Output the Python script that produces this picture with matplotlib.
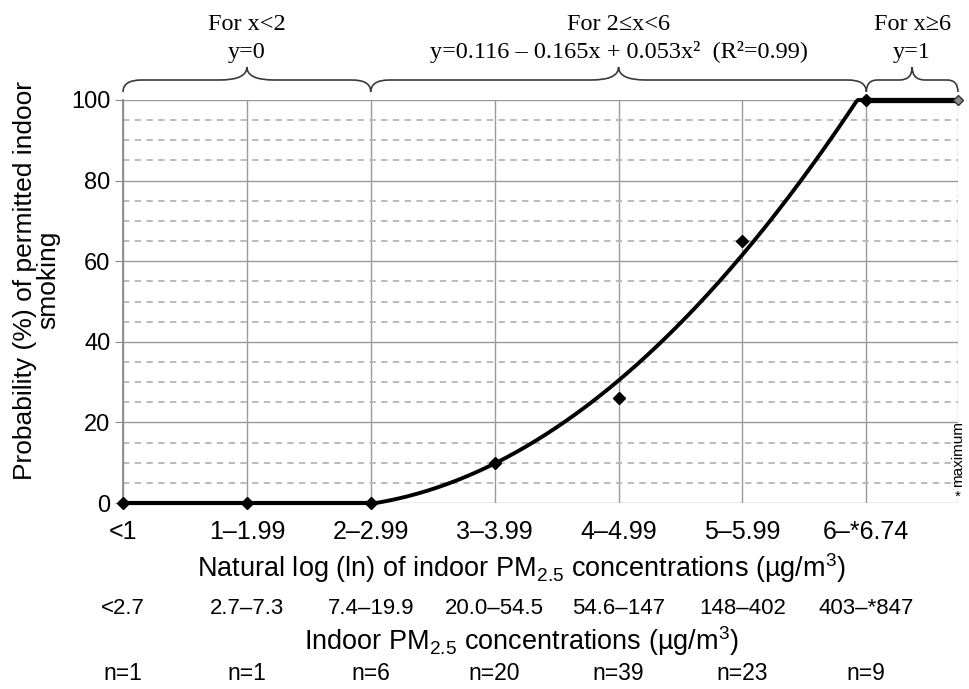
import numpy as np
import matplotlib
matplotlib.use('Agg')
import matplotlib.pyplot as plt
from matplotlib.path import Path
from matplotlib.patches import PathPatch
import matplotlib.transforms as mtransforms

# ---------------- data ----------------
ln_labels = ['<1', '1–1.99', '2–2.99', '3–3.99', '4–4.99', '5–5.99', '6–*6.74']
pm_labels = ['<2.7', '2.7–7.3', '7.4–19.9', '20.0–54.5', '54.6–147', '148–402', '403–*847']
n_labels = ['n=1', 'n=1', 'n=6', 'n=20', 'n=39', 'n=23', 'n=9']
x_obs = [0, 1, 2, 3, 4, 5, 6]
y_obs = [0, 0, 0, 10, 26, 65, 100]
x_max = 6.74
y_max = 100
fit_coef = [0.116, -0.165, 0.053]   # y = a + b x + c x^2  (2 <= x < 6)
fit_lo, fit_hi = 2, 6

plt.rcParams['font.family'] = ['Liberation Sans', 'DejaVu Sans']
plt.rcParams['mathtext.fontset'] = 'custom'
plt.rcParams['mathtext.rm'] = 'Liberation Sans'
plt.rcParams['mathtext.it'] = 'Liberation Sans:italic'
plt.rcParams['mathtext.bf'] = 'Liberation Sans:bold'

W, H = 969, 689
fig = plt.figure(figsize=(W / 100, H / 100), dpi=100)
L, R, T, B = 123, 958, 100, 503
ax = fig.add_axes([L / W, 1 - B / H, (R - L) / W, (B - T) / H])

def ay(p):
    return (B - p) / (B - T)

ax.set_xlim(0, x_max)
ax.set_ylim(0, 100)

# grid
ax.set_yticks(range(0, 101, 20))
ax.set_yticks(range(0, 101, 5), minor=True)
ax.set_xticks(x_obs)
ax.set_xticklabels(ln_labels, fontsize=18)
ax.yaxis.grid(True, which='major', color='#9a9a9a', lw=1.0)
ax.yaxis.grid(True, which='minor', color='#b5b5b5', lw=1.3, ls=(0, (3.5, 3)))
ax.xaxis.grid(True, which='major', color='#9a9a9a', lw=1.0)
ax.set_axisbelow(True)
for s in ['top', 'right', 'bottom']:
    ax.spines[s].set_visible(False)
ax.spines['left'].set_color('#8a8a8a')
ax.spines['left'].set_linewidth(1.3)
ax.tick_params(axis='y', which='major', length=6, color='#8a8a8a', labelsize=17, pad=3)
ax.tick_params(axis='y', which='minor', length=0)
ax.tick_params(axis='x', length=0, pad=12.5)
ax.axvline(x_max, color='#9a9a9a', lw=1.0, ls=(0, (3, 2)))

# fitted model
xc = np.linspace(fit_lo, fit_hi, 300)
yc = 100 * np.clip(fit_coef[0] + fit_coef[1] * xc + fit_coef[2] * xc ** 2, 0, 1)
ax.plot([x_obs[0], fit_lo], [0, 0], color='black', lw=3.0, clip_on=False, zorder=4,
        solid_capstyle='butt')
ax.plot(xc, yc, color='black', lw=2.8, clip_on=False, zorder=4)
ax.plot([fit_hi, x_max], [y_max, y_max], color='black', lw=3.8, clip_on=False, zorder=4,
        solid_capstyle='butt')

# observed points
ax.plot(x_obs, y_obs, 'D', color='black', ms=6.2, clip_on=False, zorder=5)
ax.plot([x_max], [y_max], 'D', mfc='#8c8c8c', mec='#333333', mew=1.0, ms=5.6,
        clip_on=False, zorder=6)

# labels
ax.set_ylabel('Probability (%) of permitted indoor\nsmoking', fontsize=19,
              linespacing=0.95)
ax.yaxis.set_label_coords((60 - L) / (R - L), ay(280))

tr = mtransforms.blended_transform_factory(ax.transData, ax.transAxes)
xlab_x = (521 - L) / (R - L) * x_max
ax.text(xlab_x, ay(568), 'Natural log (ln) of indoor PM$_{2.5}$ concentrations (µg/m$^3$)',
        transform=tr, ha='center', va='center', fontsize=19.5)
ax.text(xlab_x, ay(641), 'Indoor PM$_{2.5}$ concentrations (µg/m$^3$)',
        transform=tr, ha='center', va='center', fontsize=19.5)
for xi, pl, nl in zip(x_obs, pm_labels, n_labels):
    ax.text(xi, ay(609), pl, transform=tr, ha='center', va='center', fontsize=16)
    ax.text(xi, ay(674), nl, transform=tr, ha='center', va='center', fontsize=16.5)

ax.text(x_max, ay(487), 'maximum', transform=tr, rotation=90, ha='center', va='bottom',
        fontsize=11)
ax.text(x_max, ay(497), '*', transform=tr, ha='center', va='center', fontsize=11)

# braces
def brace(x0, x1, r_end, r_tip):
    ye, yf, yt = ay(92), ay(80), ay(67)
    xm = (x0 + x1) / 2
    verts = [(x0, ye), (x0, yf), (x0 + r_end, yf), (xm - r_tip, yf),
             (xm, yf), (xm, yt), (xm, yf), (xm + r_tip, yf),
             (x1 - r_end, yf), (x1, yf), (x1, ye)]
    codes = [Path.MOVETO, Path.CURVE3, Path.CURVE3, Path.LINETO,
             Path.CURVE3, Path.CURVE3, Path.CURVE3, Path.CURVE3,
             Path.LINETO, Path.CURVE3, Path.CURVE3]
    ax.add_patch(PathPatch(Path(verts, codes), transform=tr, fill=False,
                           edgecolor='#3a3a3a', lw=1.2, clip_on=False))

serif = ['Liberation Serif', 'DejaVu Serif']
segs = [(0, 2, 'For x<2', 'y=0'),
        (2, 6, 'For 2≤x<6', 'y=0.116 – 0.165x + 0.053x²  (R²=0.99)'),
        (6, x_max, 'For x≥6', 'y=1')]
for x0, x1, t1, t2 in segs:
    w = x1 - x0
    brace(x0, x1, min(0.15, w * 0.12), min(0.22, w * 0.14))
    ax.text((x0 + x1) / 2, ay(30), t1, transform=tr, ha='center', va='baseline',
            fontsize=17.5, family=serif)
    ax.text((x0 + x1) / 2, ay(58), t2, transform=tr, ha='center', va='baseline',
            fontsize=17.5, family=serif)

fig.savefig('out.png', dpi=100)
